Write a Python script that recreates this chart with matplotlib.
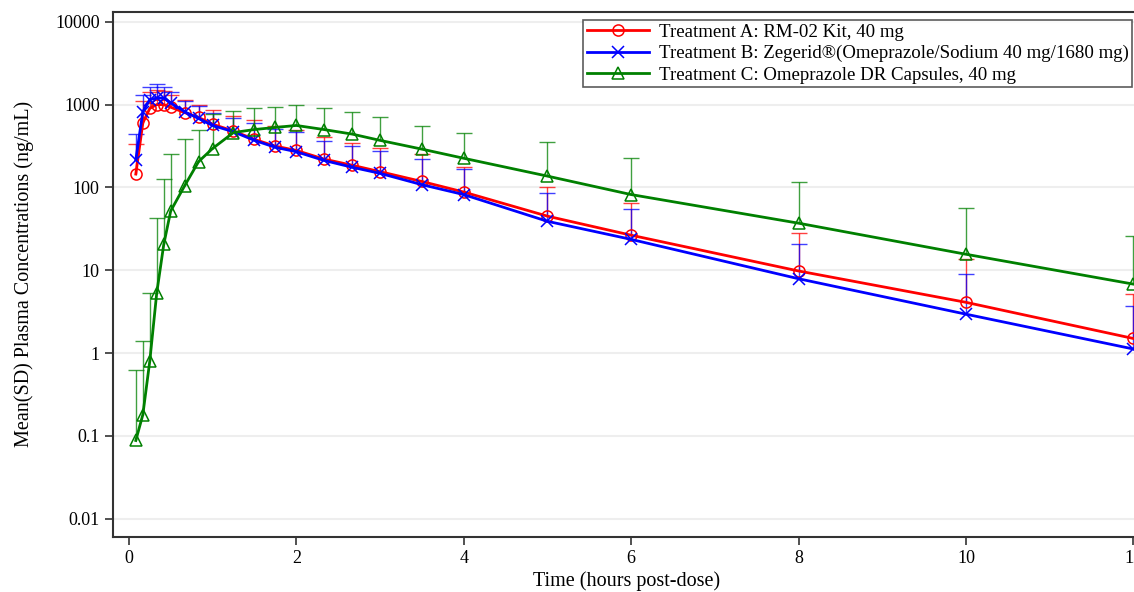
import matplotlib
matplotlib.use("Agg")
import matplotlib.pyplot as plt
import numpy as np

plt.rcParams['font.family'] = ['Liberation Serif', 'DejaVu Serif']

# time points (hours)
times = [0.083, 0.167, 0.25, 0.333, 0.417, 0.5, 0.667, 0.833, 1, 1.25, 1.5, 1.75,
         2, 2.33, 2.67, 3, 3.5, 4, 5, 6, 8, 10, 12]

# Treatment A mean and mean+SD
mean_a = [145, 600, 900, 1000, 1000, 930, 800, 700, 580, 480, 380, 315,
          280, 220, 185, 155, 118, 88, 45, 26.5, 9.8, 4.1, 1.5]
top_a = [330, 1100, 1400, 1500, 1450, 1300, 1150, 1000, 870, 720, 660, 545,
         500, 410, 345, 300, 250, 178, 100, 64, 28, 13.5, 5.2]

# Treatment B
mean_b = [215, 820, 1150, 1200, 1200, 1050, 820, 680, 560, 470, 370, 305,
          270, 212, 175, 148, 108, 82, 39, 23.6, 7.9, 2.95, 1.12]
top_b = [445, 1320, 1650, 1750, 1650, 1400, 1100, 950, 800, 680, 600, 510,
         465, 360, 315, 273, 218, 165, 86, 55, 21, 8.9, 3.7]

# Treatment C
mean_c = [0.088, 0.18, 0.8, 5.3, 20.5, 52, 105, 205, 295, 460, 500, 530,
          560, 500, 440, 370, 290, 225, 137, 82, 37, 15.6, 6.8]
top_c = [0.62, 1.4, 5.3, 43, 127, 250, 380, 500, 780, 840, 920, 940,
         980, 900, 810, 700, 545, 460, 350, 225, 117, 56, 26]

labels = ["Treatment A: RM-02 Kit, 40 mg",
          "Treatment B: Zegerid\u00ae(Omeprazole/Sodium 40 mg/1680 mg)",
          "Treatment C: Omeprazole DR Capsules, 40 mg"]
colors = ["#ff0000", "#0000ff", "#008000"]
markers = ["o", "x", "^"]

fig = plt.figure(figsize=(11.34, 5.92), dpi=100)
ax = fig.add_axes([0.0996, 0.093, 0.905, 0.887])

series = [(mean_a, top_a), (mean_b, top_b), (mean_c, top_c)]
t = np.array(times)
for (m, top), lab, c, mk in zip(series, labels, colors, markers):
    m = np.array(m)
    sd = np.array(top) - m
    eb = ax.errorbar(t, m, yerr=[np.zeros_like(sd), sd], fmt='none', ecolor=c,
                     elinewidth=1.0, capsize=6, capthick=1.0, alpha=0.75, zorder=2)
    eb[1][0].set_visible(False)
    ax.plot(t, m, color=c, lw=2.0, marker=mk, markersize=8, markerfacecolor='none',
            markeredgecolor=c, markeredgewidth=1.1, label=lab, zorder=3)

ax.set_yscale('log')
ax.set_ylim(10 ** -2.22, 10 ** 4.12)
ax.set_xlim(-0.19, 12.07)
ax.set_yticks([0.01, 0.1, 1, 10, 100, 1000, 10000])
ax.set_yticklabels(["0.01", "0.1", "1", "10", "100", "1000", "10000"])
ax.minorticks_off()
ax.set_xticks([0, 2, 4, 6, 8, 10, 12])
ax.tick_params(direction='out', length=6, width=1.2, labelsize=13, colors='#333333')
ax.tick_params(labelcolor='black')
ax.grid(axis='y', color='#eeeeee', lw=1.5)
ax.set_axisbelow(True)
for s in ['left', 'bottom', 'top']:
    ax.spines[s].set_color('#333333')
    ax.spines[s].set_linewidth(1.5)
ax.spines['right'].set_visible(False)

ax.set_xlabel("Time (hours post-dose)", fontsize=14.5)
ax.xaxis.set_label_coords(0.5, -0.066)
ax.set_ylabel("Mean(SD) Plasma Concentrations (ng/mL)", fontsize=14.5, labelpad=15)

leg = ax.legend(loc='upper left', bbox_to_anchor=(0.458, 0.985), fontsize=13.6,
                handlelength=3.3, frameon=True, fancybox=False, edgecolor='#333333',
                borderpad=0.2, labelspacing=0.22, handletextpad=0.5, borderaxespad=0)
leg.get_frame().set_linewidth(1.2)

fig.savefig("out.png", dpi=100)
